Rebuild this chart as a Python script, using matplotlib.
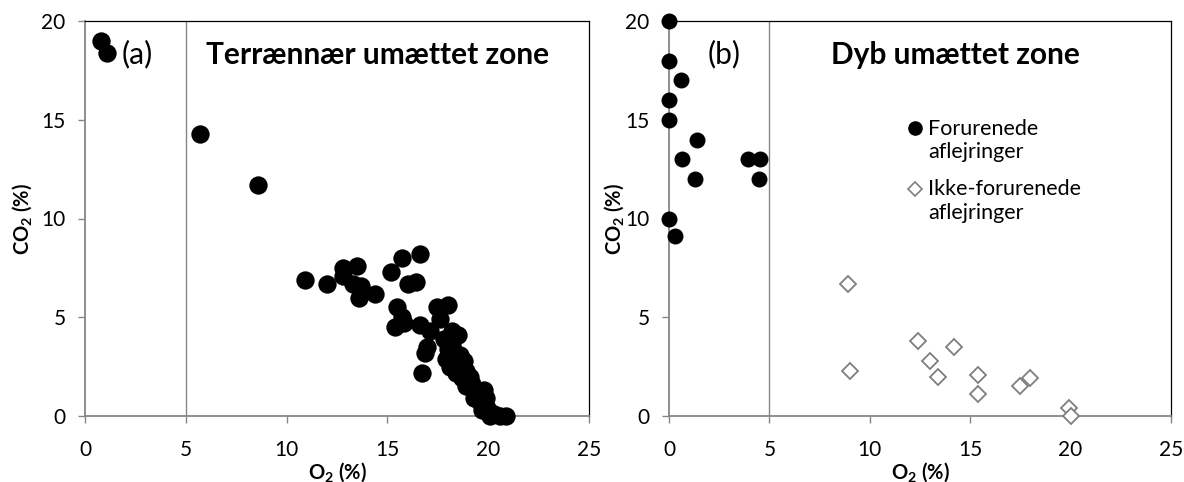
import matplotlib
matplotlib.use("Agg")
import matplotlib.pyplot as plt
from matplotlib.lines import Line2D
from matplotlib.legend_handler import HandlerLine2D

plt.rcParams['font.family'] = ['Lato', 'DejaVu Sans']
plt.rcParams['mathtext.fontset'] = 'custom'
plt.rcParams['mathtext.rm'] = 'Lato'
plt.rcParams['mathtext.bf'] = 'Lato:bold'
plt.rcParams['mathtext.it'] = 'Lato:italic'

# ---------- data ----------
# Panel (a): Terrænnær umættet zone
a_o2 = [0.8, 1.1, 5.7, 8.6,
        10.9, 12.0, 12.8, 12.8, 13.3, 13.5, 13.7, 13.6, 14.4, 15.2, 15.7, 16.6,
        16.0, 16.4, 15.5, 15.7, 15.4, 15.8, 17.45, 17.6, 18.0, 16.6, 17.1,
        16.95, 16.87, 16.7, 18.2, 18.5,
        17.8, 18.0, 18.2, 17.9, 18.3, 18.6, 18.1, 18.5, 18.8, 18.4, 18.9,
        18.7, 19.1, 18.9, 19.2, 19.4, 19.8, 19.9, 19.3, 19.6, 19.9, 20.0,
        20.3, 20.6, 20.9, 19.7, 20.1]
a_co2 = [19.0, 18.4, 14.3, 11.7,
         6.9, 6.7, 7.5, 7.1, 6.7, 7.6, 6.6, 6.0, 6.2, 7.3, 8.0, 8.2,
         6.7, 6.8, 5.5, 5.0, 4.5, 4.7, 5.5, 4.9, 5.6, 4.6, 4.3,
         3.5, 3.2, 2.2, 4.3, 4.1,
         3.9, 3.4, 3.6, 2.9, 3.0, 3.1, 2.5, 2.6, 2.8, 2.2, 2.3,
         1.9, 2.0, 1.5, 1.6, 1.2, 1.3, 0.9, 0.9, 0.7, 0.5, 0.3,
         0.1, 0.0, 0.0, 0.3, 0.0]

# Panel (b): Dyb umættet zone
b_pol_o2 = [0.0, 0.0, 0.6, 0.0, 0.0, 1.4, 0.65, 1.3, 3.95, 4.55, 4.5, 0.0, 0.3]
b_pol_co2 = [20.0, 18.0, 17.0, 16.0, 15.0, 14.0, 13.0, 12.0, 13.0, 13.0, 12.0, 10.0, 9.1]
b_clean_o2 = [8.9, 9.0, 12.4, 13.0, 13.4, 14.2, 15.4, 15.4, 17.5, 18.0, 19.9, 20.0]
b_clean_co2 = [6.7, 2.3, 3.8, 2.8, 2.0, 3.5, 2.1, 1.1, 1.5, 1.9, 0.4, 0.0]

x_ticks = [0, 5, 10, 15, 20, 25]
y_ticks = [0, 5, 10, 15, 20]
titles = ["Terrænnær umættet zone", "Dyb umættet zone"]
panel_tags = ["(a)", "(b)"]
legend_labels = ["Forurenede\naflejringer", "Ikke-forurenede\naflejringer"]

GRAY = '#868686'
DGRAY = '#7f7f7f'

fig = plt.figure(figsize=(11.84, 4.82), dpi=100)
ax_a = fig.add_axes([85 / 1184, 1 - 416 / 482, 504 / 1184, 395 / 482])
ax_b = fig.add_axes([669 / 1184, 1 - 416 / 482, 502 / 1184, 395 / 482])


def style(ax, ylab_x):
    ax.set_xlim(0, 25)
    ax.set_ylim(0, 20)
    ax.set_xticks(x_ticks)
    ax.set_yticks(y_ticks)
    for s in ['left', 'bottom']:
        ax.spines[s].set_color(GRAY)
        ax.spines[s].set_linewidth(1.3)
    for s in ['top', 'right']:
        ax.spines[s].set_color('black')
        ax.spines[s].set_linewidth(0.9)
    ax.tick_params(axis='both', direction='out', length=5, width=1, color=GRAY,
                   labelsize=15, labelcolor='black')
    ax.tick_params(axis='x', pad=12)
    ax.tick_params(axis='y', pad=9)
    ax.axvline(5, color=GRAY, lw=1.0, zorder=1)
    ax.set_xlabel(r"$\mathbf{O_2}$ (%)", fontsize=14.5, fontweight='bold')
    ax.set_ylabel(r"$\mathbf{CO_2}$ (%)", fontsize=14.5, fontweight='bold')
    ax.xaxis.set_label_coords(0.5, -0.142)
    ax.xaxis.label.set_va('center')
    ax.yaxis.set_label_coords(ylab_x, 0.5)
    ax.yaxis.label.set_va('center')


style(ax_a, -0.125)
style(ax_b, -0.11)

ax_a.plot(a_o2, a_co2, 'o', color='black', markersize=13.2, markeredgewidth=0,
          clip_on=False, zorder=5)
ax_b.plot(b_pol_o2, b_pol_co2, 'o', color='black', markersize=11.5, markeredgewidth=0,
          clip_on=False, zorder=5)
ax_b.plot(b_clean_o2, b_clean_co2, 'D', markerfacecolor='white', markeredgecolor=DGRAY,
          markersize=8.6, markeredgewidth=1.3, clip_on=False, zorder=5)

ax_a.text(1.8, 18.3, panel_tags[0], fontsize=21.5, va='center', ha='left')
ax_a.text(6.0, 18.3, titles[0], fontsize=21.5, fontweight='bold', va='center', ha='left')
ax_b.text(1.9, 18.3, panel_tags[1], fontsize=21.5, va='center', ha='left')
ax_b.text(14.25, 18.3, titles[1], fontsize=21.5, fontweight='bold', va='center', ha='center')


class FirstLineHandler(HandlerLine2D):
    """Align the legend marker with the first line of a two-line label."""
    def create_artists(self, legend, orig_handle, xdescent, ydescent, width, height,
                       fontsize, trans):
        arts = super().create_artists(legend, orig_handle, xdescent, ydescent, width,
                                      height, fontsize, trans)
        for a in arts:
            a.set_ydata([y + 0.6 * fontsize for y in a.get_ydata()])
        return arts


handles = [Line2D([], [], marker='o', color='black', linestyle='none', markersize=9.5),
           Line2D([], [], marker='D', markerfacecolor='white', markeredgecolor=DGRAY,
                  linestyle='none', markersize=7.2, markeredgewidth=1.2)]
ax_b.legend(handles, legend_labels, loc='upper left', bbox_to_anchor=(0.478, 0.752),
            frameon=False, fontsize=15.5, handlelength=0.6, handletextpad=0.3,
            labelspacing=0.8, borderaxespad=0, borderpad=0,
            handler_map={Line2D: FirstLineHandler()})

fig.savefig('out.png', dpi=100, facecolor='white')
